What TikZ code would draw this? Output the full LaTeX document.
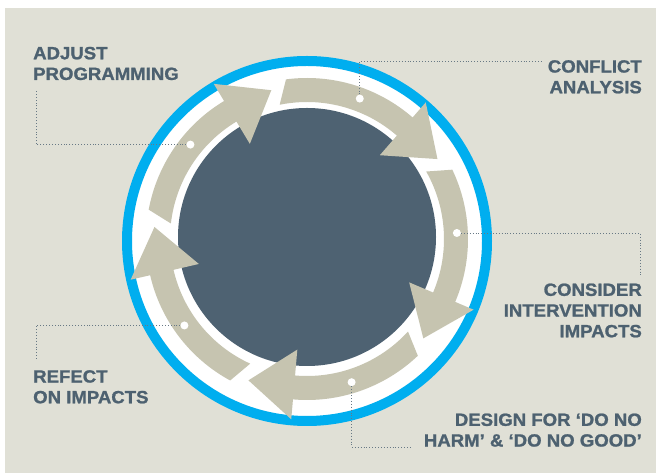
\documentclass[tikz,border=0pt]{standalone}
\usepackage{fontspec}
\newfontfamily\stagefont[FakeStretch=1.05, BoldFeatures={FakeBold=1.2}]{Liberation Sans}
\definecolor{hintergrund}{HTML}{E0E0D6}
\definecolor{ringblau}{HTML}{00AEEF}
\definecolor{kern}{HTML}{4E6272}
\definecolor{bandgrau}{HTML}{C6C4B0}
\definecolor{schrift}{HTML}{4D6170}
\tikzset{
  stagelbl/.style={font=\stagefont\bfseries\fontsize{17.7}{20.7}\selectfont, text=schrift, inner sep=0pt},
  leader/.style={draw=schrift!85, dotted, line width=0.9pt},
  punkt/.style={circle, fill=white, minimum size=8pt, inner sep=0pt},
  band/.style={fill=bandgrau}
}
\begin{document}
\begin{tikzpicture}[x=1pt, y=1pt]
    \useasboundingbox (0,0) rectangle (656,473);
    \fill[white] (0,0) rectangle (656,473);
    \fill[hintergrund] (5,0) rectangle (656,465);

    % Ring und Kern
    \draw[line width=10pt, draw=ringblau, fill=white] (307,232) circle[radius=180];
    \fill[kern] (307,236) circle[radius=129];

    % Pfeile im Kreis
    \begin{scope}[shift={(307,234)}]
    \foreach \b in {121,49,-23,-95,-167} {
        \pgfmathsetmacro\ti{\b+52.5}
        \pgfmathsetmacro\ta{\b+48.5}
        \pgfmathsetmacro\sp{\b-17.5}
        \fill[band] (\ti:137) arc[start angle=\ti, end angle=\b, radius=137]
            -- (\b:111) -- (\sp:153) -- (\b:181) -- (\b:161)
            arc[start angle=\b, end angle=\ta, radius=161] -- cycle;
    }
    \node (dotadjust) [punkt] at (141:150) {};
    \node (dotconflict) [punkt] at (69.4:150) {};
    \node (dotconsider) [punkt] at (2.3:150) {};
    \node (dotdesign) [punkt] at (-72.7:150) {};
    \node (dotreflect) [punkt] at (-144.8:150) {};
    \end{scope}

    \node (adjust) [stagelbl, anchor=north west, align=left] at (33,426.3) {ADJUST\\PROGRAMMING};
    \node (conflict) [stagelbl, anchor=north east, align=right] at (642,413) {CONFLICT\\ANALYSIS};
    \node (consider) [stagelbl, anchor=north east, align=right] at (642,189.7) {CONSIDER\\INTERVENTION\\IMPACTS};
    \node (design) [stagelbl, anchor=north east, align=right] at (642,59.7) {DESIGN FOR ‘DO NO\\HARM’ \& ‘DO NO GOOD’};
    \node (reflect) [stagelbl, anchor=north west, align=left] at (33,103) {REFECT\\ON IMPACTS};

    \coordinate (endadjust) at (36,384);
    \coordinate (endconflict) at (542,412);
    \coordinate (endconsider) at (640,198);
    \coordinate (enddesign) at (412,26);
    \coordinate (endreflect) at (36,113);

    % Hinweislinien
    \draw[leader] (dotadjust) -| (endadjust);
    \draw[leader] (dotconflict) |- (endconflict);
    \draw[leader] (dotconsider) -| (endconsider);
    \draw[leader] (dotdesign) |- (enddesign);
    \draw[leader] (dotreflect) -| (endreflect);
\end{tikzpicture}
\end{document}
